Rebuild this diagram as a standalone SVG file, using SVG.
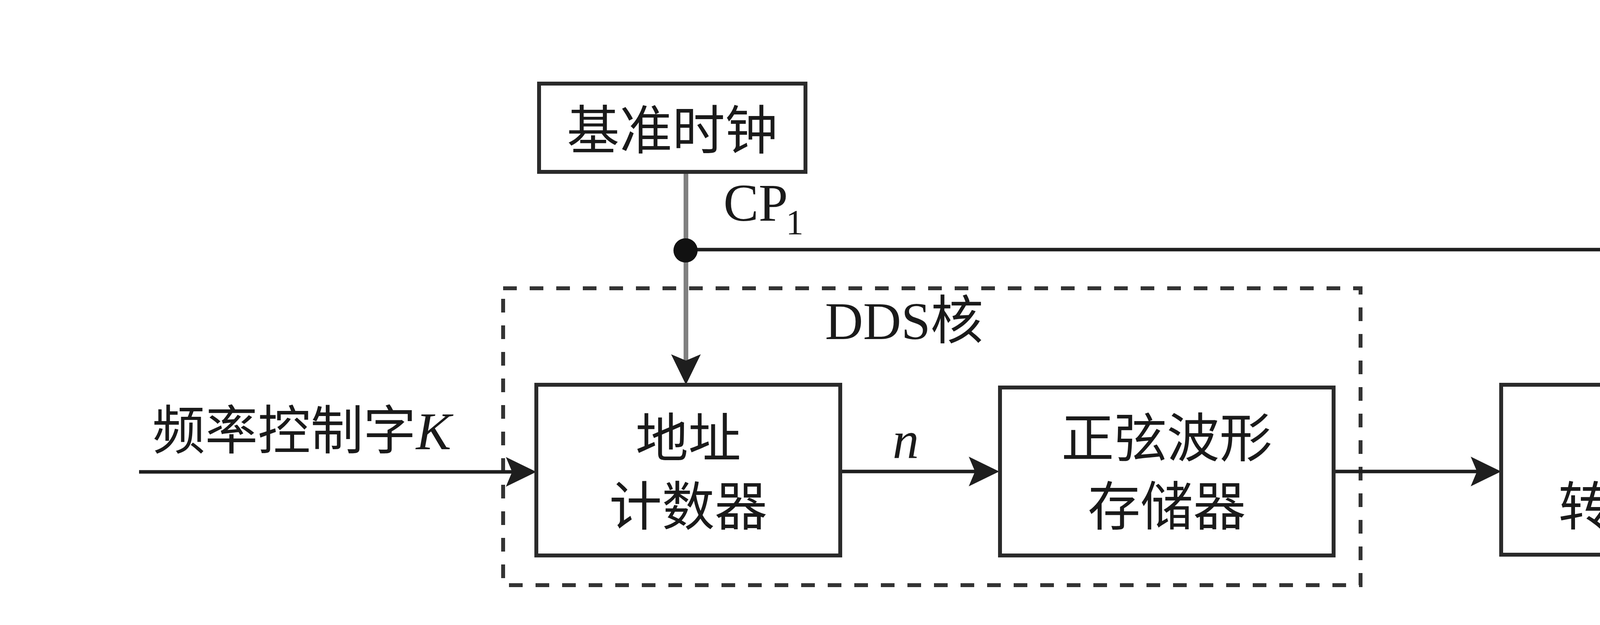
<svg xmlns="http://www.w3.org/2000/svg" width="6664" height="1600" viewBox="0 0 6664 1600">
<style>
.box{fill:#fff;stroke:#2a2a2a;stroke-width:10}
.ln{fill:none;stroke:#1e1e1e;stroke-width:9}
.gray{fill:none;stroke:#808080;stroke-width:12}
.dash{fill:none;stroke:#333;stroke-width:10;stroke-dasharray:35 33}
.t{font-family:"Liberation Serif","Noto Sans CJK SC",serif;font-size:135px;fill:#1a1a1a}
.c{text-anchor:middle}
.i{font-style:italic}
</style>
<defs>
<marker id="arr" markerUnits="userSpaceOnUse" markerWidth="90" markerHeight="90" viewBox="-60 -45 90 90" refX="0" refY="0" orient="auto">
<path d="M25,0 L-53,-38 L-37,0 L-53,38 Z" fill="#1e1e1e"/>
</marker>
</defs>
<rect width="6664" height="1600" fill="#fff"/>
<g id="dds-core">
<rect class="dash" x="1288" y="738" width="2195" height="760"/>
<text class="t" x="2112" y="868">DDS核</text>
</g>
<g id="connectors">
<path class="gray" d="M1756,440 V960" marker-end="url(#arr)"/>
<path class="ln" d="M1755,639 H4197 V960" marker-end="url(#arr)"/>
<path class="ln" d="M356,1208 H1348" marker-end="url(#arr)"/>
<path class="ln" d="M2151,1207 H2533" marker-end="url(#arr)"/>
<path class="ln" d="M3414,1207 H3818" marker-end="url(#arr)"/>
<path class="ln" d="M4541,1207 H4936" marker-end="url(#arr)"/>
<path class="ln" d="M5663,1214 H6076" marker-end="url(#arr)"/>
<circle cx="1755" cy="641" r="31" fill="#111"/>
<text class="t" x="1852" y="565">CP<tspan font-size="90" x="2012" y="600">1</tspan></text>
<text class="t" x="390" y="1150">频率控制字<tspan class="i">K</tspan></text>
<text class="t i" x="2285" y="1172" font-size="140">n</text>
<text class="t" x="5686" y="1125">正弦信号</text>
<text class="t i" x="5927" y="1408">v<tspan font-size="90" y="1442" font-style="normal">o</tspan></text>
</g>
<g id="clock">
<rect class="box" x="1380" y="214" width="682" height="226"/>
<text class="t c" x="1721" y="382">基准时钟</text>
</g>
<g id="counter">
<rect class="box" x="1373" y="985" width="778" height="437"/>
<text class="t c" x="1762" y="1170">地址</text>
<text class="t c" x="1762" y="1345">计数器</text>
</g>
<g id="rom">
<rect class="box" x="2560" y="992" width="854" height="430"/>
<text class="t c" x="2987" y="1170">正弦波形</text>
<text class="t c" x="2987" y="1345">存储器</text>
</g>
<g id="dac">
<rect class="box" x="3843" y="985" width="698" height="435"/>
<text class="t c" x="4192" y="1170">DA</text>
<text class="t c" x="4192" y="1345">转换器</text>
</g>
<g id="lpf">
<rect class="box" x="4961" y="985" width="702" height="435"/>
<text class="t c" x="5312" y="1178">低通</text>
<text class="t c" x="5312" y="1350">滤波器</text>
</g>
</svg>
